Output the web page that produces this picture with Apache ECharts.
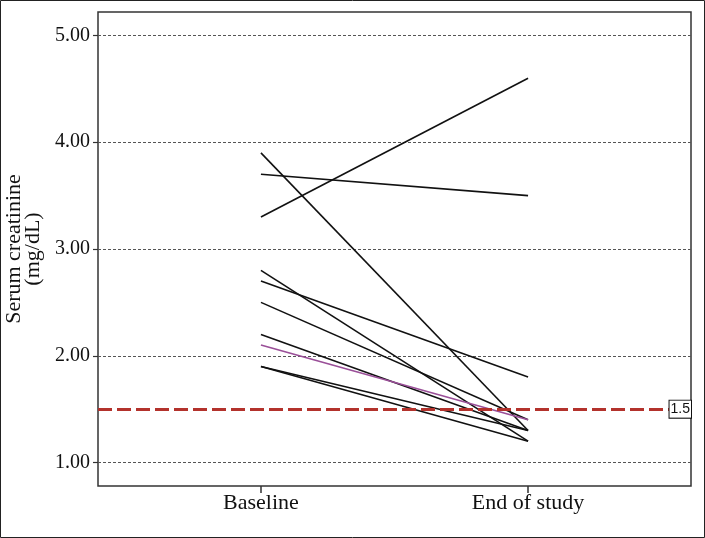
<!DOCTYPE html>
<html>
<head>
<meta charset="utf-8">
<script src="https://cdn.jsdelivr.net/npm/echarts@6/dist/echarts.min.js"></script>
<style>
html,body{margin:0;padding:0;background:#fff;}
#chart{width:705px;height:538px;}
</style>
</head>
<body>
<div id="chart"></div>
<script>
// Data
const categories = ['Baseline', 'End of study'];
const baselineValues = [3.3, 3.7, 3.9, 2.8, 2.7, 2.5, 2.2, 2.1, 1.9, 1.9];
const endOfStudyValues = [4.6, 3.5, 1.3, 1.2, 1.8, 1.4, 1.3, 1.4, 1.3, 1.2];
const highlightedPatient = 7; // drawn in purple
const yTicks = [1, 2, 3, 4, 5];
const referenceValue = 1.5;

const serif = 'Liberation Serif';
const chart = echarts.init(document.getElementById('chart'));

const series = baselineValues.map((b, i) => ({
  type: 'line',
  data: [[1, b], [2, endOfStudyValues[i]]],
  symbol: 'none',
  silent: true,
  z: 3,
  lineStyle: { color: i === highlightedPatient ? '#9a4f98' : '#111', width: 1.6 }
}));

series.push({
  type: 'line',
  data: [],
  silent: true,
  z: 2,
  markLine: {
    silent: true,
    symbol: 'none',
    lineStyle: { color: '#b3322c', width: 3, type: [14, 5] },
    label: {
      show: true,
      position: 'insideEnd',
      distance: 0,
      formatter: String(referenceValue),
      fontFamily: 'Liberation Sans Narrow, Liberation Sans',
      fontSize: 14,
      color: '#111',
      backgroundColor: '#fff',
      borderColor: '#111',
      borderWidth: 1,
      padding: [2, 1, 1, 1]
    },
    data: [{ yAxis: referenceValue }]
  }
});

chart.setOption({
  animation: false,
  backgroundColor: '#fff',
  graphic: [{
    type: 'rect',
    shape: { x: 0.5, y: 0.5, width: 704, height: 537 },
    style: { fill: 'none', stroke: '#222', lineWidth: 1 },
    silent: true
  }],
  grid: {
    left: 98, right: 14, top: 12, bottom: 52,
    containLabel: false,
    outerBoundsMode: 'none',
    show: true, borderColor: '#333', borderWidth: 1.5, backgroundColor: '#fff'
  },
  xAxis: {
    type: 'value',
    min: 0.39, max: 2.61,
    splitLine: { show: false },
    axisLine: { show: false },
    axisTick: { show: true, customValues: [1, 2], length: 7, inside: false, lineStyle: { color: '#333', width: 1.5 } },
    axisLabel: {
      customValues: [1, 2],
      formatter: v => categories[Math.round(v) - 1],
      fontFamily: serif, fontSize: 22, color: '#111', margin: 6
    }
  },
  yAxis: {
    type: 'value',
    min: 0.78, max: 5.22,
    name: 'Serum creatinine\n(mg/dL)',
    nameLocation: 'middle',
    nameGap: 54,
    nameRotate: 90,
    nameTextStyle: { fontFamily: serif, fontSize: 22, color: '#111', lineHeight: 19 },
    axisLine: { show: false },
    axisTick: { show: true, customValues: yTicks, length: 5, lineStyle: { color: '#333', width: 1.2 } },
    axisLabel: {
      customValues: yTicks,
      formatter: v => v.toFixed(2),
      fontFamily: serif, fontSize: 20, color: '#111', margin: 8
    },
    splitLine: { show: true, lineStyle: { color: '#555', width: 1, type: [3, 2] } }
  },
  series: series
});
</script>
</body>
</html>
